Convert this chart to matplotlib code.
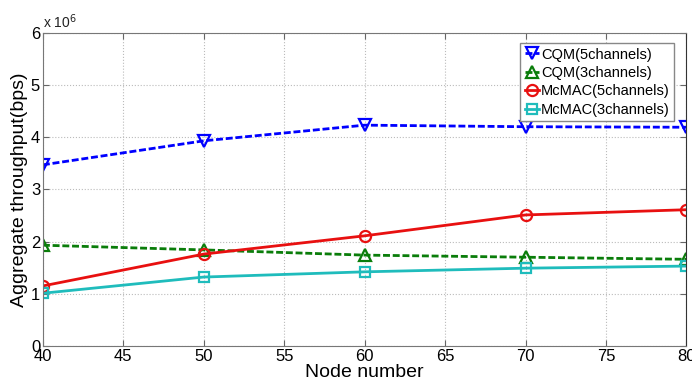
import matplotlib.pyplot as plt
from matplotlib.ticker import FuncFormatter

plt.rcParams["font.family"] = ["Liberation Sans", "DejaVu Sans"]

nodes = [40, 50, 60, 70, 80]
cqm_5ch = [3.47e6, 3.93e6, 4.23e6, 4.20e6, 4.19e6]
cqm_3ch = [1.93e6, 1.84e6, 1.74e6, 1.70e6, 1.66e6]
mcmac_5ch = [1.15e6, 1.76e6, 2.11e6, 2.51e6, 2.61e6]
mcmac_3ch = [1.01e6, 1.32e6, 1.42e6, 1.49e6, 1.53e6]

fig = plt.figure(figsize=(6.92, 3.81), dpi=100)
ax = fig.add_axes([0.062, 0.092, 0.930, 0.822])

common = dict(linewidth=2, markersize=8, markerfacecolor="none", markeredgewidth=1.6)
ax.plot(nodes, cqm_5ch, "--", color="#0000ff", marker="v", label="CQM(5channels)",
        dashes=(2.5, 1), **common)
ax.plot(nodes, cqm_3ch, "--", color="#0a7d0a", marker="^", label="CQM(3channels)",
        dashes=(2.5, 1), **common)
ax.plot(nodes, mcmac_5ch, "-", color="#e81010", marker="o", label="McMAC(5channels)", **common)
ax.plot(nodes, mcmac_3ch, "-", color="#1fbcbc", marker="s", label="McMAC(3channels)",
        **dict(common, markersize=7))

ax.set_xlim(40, 80)
ax.set_ylim(0, 6e6)
ax.set_xticks(range(40, 81, 5))
ax.set_yticks([i * 1e6 for i in range(7)])
ax.yaxis.set_major_formatter(FuncFormatter(lambda v, _: f"{v / 1e6:g}"))
ax.text(0.0, 1.005, r"x 10$^6$", transform=ax.transAxes, fontsize=10,
        ha="left", va="bottom", color="#222222")

ax.grid(True, linestyle=":", color="#bbbbbb", linewidth=0.8)
ax.tick_params(direction="in", top=True, right=True, labelsize=12, length=4,
               color="#666666", pad=2)
for sp in ax.spines.values():
    sp.set_color("#777777")
ax.spines["right"].set_color("#333333")

ax.set_xlabel("Node number", fontsize=14, labelpad=0)
ax.set_ylabel("Aggregate throughput(bps)", fontsize=14, labelpad=2)

leg = ax.legend(loc="upper right", fontsize=10.5, handlelength=1.0, handletextpad=0.1,
                borderpad=0.3, labelspacing=0.3, fancybox=False,
                bbox_to_anchor=(0.992, 0.99), framealpha=1)
leg.get_frame().set_edgecolor("#888888")

fig.savefig("out.png", dpi=100)
